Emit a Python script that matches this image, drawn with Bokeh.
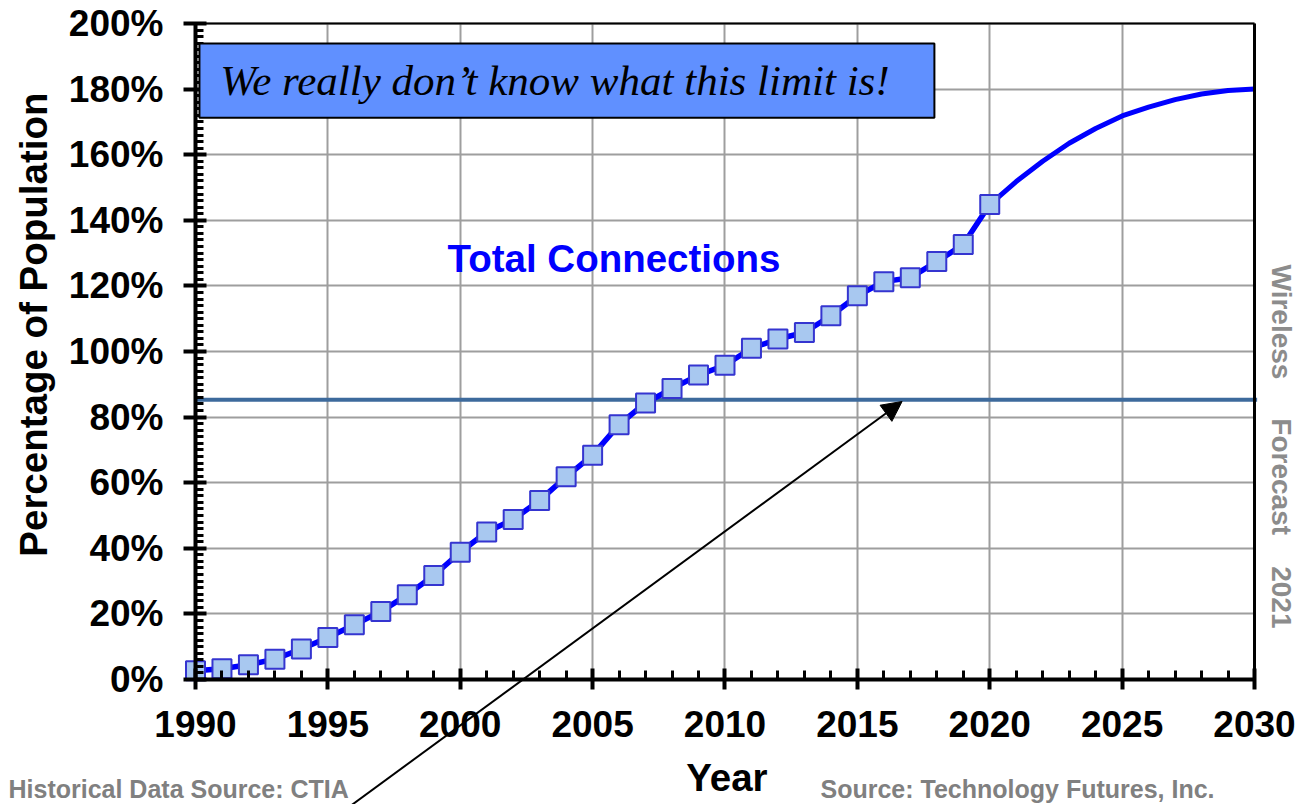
from bokeh.plotting import figure
from bokeh.models import (FixedTicker, PrintfTickFormatter, BoxAnnotation, Range1d,
                          Label, Arrow, NormalHead, ColumnDataSource, LinearAxis)
from bokeh.embed import file_html
from bokeh.resources import INLINE

# ---- data ----
hist_years = list(range(1990, 2021))
hist_pct = [2.7, 3.3, 4.5, 6.2, 9.3, 12.8, 16.7, 20.7, 25.8, 31.7,
            38.8, 45.0, 48.8, 54.6, 61.8, 68.4, 77.7, 84.3, 88.7, 92.8,
            95.8, 101.0, 103.8, 105.8, 110.9, 117.0, 121.3, 122.5, 127.4, 132.6,
            144.8]
fc_years = list(range(2020, 2031))
fc_pct = [144.8, 151.8, 158.0, 163.5, 168.0, 171.8, 174.5, 176.8, 178.5, 179.6, 180.0]
limit_level = 85.3
x_major = list(range(1990, 2031, 5))
x_minor = list(range(1990, 2031))
y_major = list(range(0, 201, 20))
y_minor = list(range(0, 201, 2))
X0, X1 = 1990, 2030
Y0, Y1 = 0, 200

FONT = "Liberation Sans"
GRID_COLOR = "#9e9e9e"

# the frame covers the whole canvas; axes are pinned to the data box
p = figure(width=1300, height=804,
           x_range=Range1d(1982.635, 2031.738), y_range=Range1d(-38.11, 207.01),
           min_border=0, min_border_left=0, min_border_right=0,
           min_border_top=0, min_border_bottom=0,
           toolbar_location=None, output_backend="svg",
           background_fill_color="white", border_fill_color="white")
p.outline_line_color = None

xt = FixedTicker(ticks=x_major, minor_ticks=x_minor)
yt = FixedTicker(ticks=y_major, minor_ticks=y_minor)

# grids, limited to the data box
gx, gy = p.xgrid[0], p.ygrid[0]
gx.ticker = xt
gy.ticker = yt
if "cross_bounds" in gx.properties():
    gx.bounds = (X0, X1)
    gy.bounds = (Y0, Y1)
    gx.cross_bounds = (Y0, Y1)
    gy.cross_bounds = (X0, X1)
    for g in (gx, gy):
        g.grid_line_color = GRID_COLOR
        g.grid_line_width = 2
else:
    gx.grid_line_color = None
    gy.grid_line_color = None
    p.segment(x0=x_major, x1=x_major, y0=[Y0] * len(x_major), y1=[Y1] * len(x_major),
              line_color=GRID_COLOR, line_width=2)
    p.segment(x0=[X0] * len(y_major), x1=[X1] * len(y_major), y0=y_major, y1=y_major,
              line_color=GRID_COLOR, line_width=2)

# axes
p.xaxis.ticker = xt
p.yaxis.ticker = yt
p.yaxis.formatter = PrintfTickFormatter(format="%d%%")
p.xaxis.fixed_location = Y0
p.yaxis.fixed_location = X0
p.xaxis.bounds = (X0, X1)
p.yaxis.bounds = (Y0, Y1)
for ax in (p.xaxis[0], p.yaxis[0]):
    ax.axis_line_color = "black"
    ax.axis_line_width = 4
    ax.major_tick_line_color = "black"
    ax.major_tick_line_width = 4
    ax.minor_tick_line_color = "black"
    ax.minor_tick_line_width = 3
    ax.major_label_text_font = FONT
    ax.major_label_text_font_style = "bold"
    ax.major_label_text_font_size = "37px"
    ax.major_label_text_color = "black"

p.xaxis.major_tick_in = 11
p.xaxis.major_tick_out = 10
p.xaxis.minor_tick_in = 9
p.xaxis.minor_tick_out = 0
p.xaxis.major_label_standoff = 22

p.yaxis.major_tick_in = 11
p.yaxis.major_tick_out = 12
p.yaxis.minor_tick_in = 8
p.yaxis.minor_tick_out = 0
p.yaxis.major_label_standoff = 20

# top and right borders of the plot box
top_ax = LinearAxis(fixed_location=Y1, bounds=(X0, X1), ticker=FixedTicker(ticks=[]),
                    axis_line_color="black", axis_line_width=2,
                    major_tick_line_color=None, minor_tick_line_color=None,
                    major_label_text_color=None)
right_ax = LinearAxis(fixed_location=X1, bounds=(Y0, Y1), ticker=FixedTicker(ticks=[]),
                      axis_line_color="black", axis_line_width=3,
                      major_tick_line_color=None, minor_tick_line_color=None,
                      major_label_text_color=None)
p.add_layout(top_ax, "above")
p.add_layout(right_ax, "right")

# limit box
box = BoxAnnotation(left=1990.15, right=2017.91, bottom=171.3, top=193.9,
                    fill_color="#6090ff", fill_alpha=1.0,
                    line_color="black", line_width=2, line_alpha=1.0)
p.add_layout(box)
p.add_layout(Label(x=1990.94, y=182.6, text="We really don\u2019t know what this limit is!",
                   text_font="Liberation Serif", text_font_style="italic",
                   text_font_size="43px", text_color="black", text_baseline="middle"))

# horizontal level line
p.segment(x0=[X0], x1=[X1 + 0.1], y0=[limit_level], y1=[limit_level],
          line_color="#3d6a9c", line_width=4)

# series
src_h = ColumnDataSource(dict(x=hist_years, y=hist_pct))
src_f = ColumnDataSource(dict(x=fc_years, y=fc_pct))
p.line("x", "y", source=src_f, line_color="#0000ff", line_width=5)
p.line("x", "y", source=src_h, line_color="#0000ff", line_width=5.5)
p.scatter("x", "y", source=src_h, marker="square", size=19,
          fill_color="#a8c8f0", line_color="#3535d0", line_width=2)

# texts
p.add_layout(Label(x=1999.52, y=128.4, text="Total Connections", text_font=FONT,
                   text_font_style="bold", text_font_size="38.5px",
                   text_color="#0000ff", text_baseline="middle"))

p.add_layout(Arrow(end=NormalHead(size=20, fill_color="black", line_color="black"),
                   x_start=1995.10, y_start=-43.0, x_end=2016.69, y_end=84.76,
                   line_color="black", line_width=2))

p.add_layout(Label(x=2010.07, y=-30.03, text="Year", text_font=FONT,
                   text_font_style="bold", text_font_size="38.5px",
                   text_color="black", text_align="center", text_baseline="middle"))
p.add_layout(Label(x=1983.88, y=108.2, text="Percentage of Population", text_font=FONT,
                   text_font_style="bold", text_font_size="38.5px",
                   text_color="black", text_align="center", text_baseline="middle",
                   angle=1.5707963267948966))

p.add_layout(Label(x=1982.937, y=-33.3, text="Historical Data Source: CTIA", text_font=FONT,
                   text_font_style="bold", text_font_size="25px",
                   text_color="#808080", text_baseline="middle"))
p.add_layout(Label(x=2013.607, y=-33.3, text="Source: Technology Futures, Inc.", text_font=FONT,
                   text_font_style="bold", text_font_size="25px",
                   text_color="#808080", text_baseline="middle"))
p.add_layout(Label(x=2031.02, y=71.04,
                   text="Wireless\u00a0\u00a0\u00a0\u00a0\u00a0Forecast\u00a0\u00a0\u00a0\u00a02021",
                   text_font=FONT, text_font_style="bold", text_font_size="28px",
                   text_color="#8c8c8c", text_baseline="middle", text_align="center",
                   angle=-1.5707963267948966))

open("out.html", "w").write(file_html(p, INLINE))
